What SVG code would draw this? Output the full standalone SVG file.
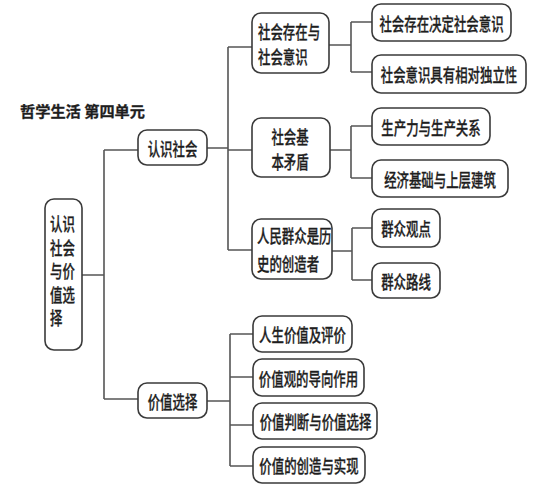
<svg xmlns="http://www.w3.org/2000/svg" width="536" height="487" viewBox="0 0 536 487">
<style>
.b{fill:#fff;stroke:#3a3a3a;stroke-width:1.6}
.t{font-family:"Noto Sans CJK SC","Noto Sans CJK TC",sans-serif;font-size:18px;font-weight:500;fill:#1e1e1e;stroke:#1e1e1e;stroke-width:0.3;dominant-baseline:central}
.c{text-anchor:middle}
.ln{fill:none;stroke:#555;stroke-width:1.6}
</style>
<rect width="536" height="487" fill="#fff"/>
<text id="title" x="20" y="110" class="t" style="font-size:14.5px;font-weight:bold" textLength="125" lengthAdjust="spacingAndGlyphs">哲学生活 第四单元</text>
<g id="connectors" class="ln">
<path d="M82 275H104M104 150V399M104 150H138M104 399H138"/>
<path d="M207 148H228M228 47V250M228 47H252M228 150H252M228 250H252"/>
<path d="M329 45H351M351 22V72M351 22H372M351 72H372"/>
<path d="M330 150H351M351 126V178M351 126H372M351 178H372"/>
<path d="M332 251H352M352 228V280M352 228H372M352 280H372"/>
<path d="M207 401H230M230 334V466M230 334H253M230 377H253M230 425H253M230 466H253"/>
</g>
<g id="root"><rect class="b" x="45" y="199" width="37" height="151" rx="9"/>
<g transform="scale(0.69,1)">
<text class="t" x="72.464" y="223">认识</text>
<text class="t" x="72.464" y="246.5">社会</text>
<text class="t" x="72.464" y="270">与价</text>
<text class="t" x="72.464" y="293.5">值选</text>
<text class="t" x="72.464" y="317">择</text></g></g>
<g id="n-rssh"><rect class="b" x="138" y="130" width="69" height="35" rx="9"/>
<text class="t c" transform="scale(0.69,1)" x="250" y="147.5">认识社会</text></g>
<g id="n-jzxz"><rect class="b" x="138" y="383" width="69" height="35" rx="9"/>
<text class="t c" transform="scale(0.69,1)" x="250" y="400.5">价值选择</text></g>
<g id="n-shcz"><rect class="b" x="252" y="13" width="77" height="60" rx="9"/>
<g transform="scale(0.69,1)">
<text class="t" x="373.913" y="31">社会存在与</text>
<text class="t" x="373.913" y="56">社会意识</text></g></g>
<g id="n-shjb"><rect class="b" x="252" y="118" width="78" height="59" rx="9"/>
<g transform="scale(0.69,1)">
<text class="t c" x="420.29" y="136">社会基</text>
<text class="t c" x="420.29" y="161">本矛盾</text></g></g>
<g id="n-rmqz"><rect class="b" x="252" y="219" width="80" height="60" rx="9"/>
<g transform="scale(0.69,1)">
<text class="t" x="372.464" y="235">人民群众是历</text>
<text class="t" x="372.464" y="263">史的创造者</text></g></g>
<g id="l1"><rect class="b" x="372" y="4" width="139" height="37" rx="9"/>
<text class="t c" transform="scale(0.69,1)" x="639.855" y="22.5">社会存在决定社会意识</text></g>
<g id="l2"><rect class="b" x="372" y="55" width="154" height="38" rx="9"/>
<text class="t c" transform="scale(0.69,1)" x="650.725" y="74">社会意识具有相对独立性</text></g>
<g id="l3"><rect class="b" x="372" y="108" width="118" height="37" rx="9"/>
<text class="t c" transform="scale(0.69,1)" x="624.638" y="126.5">生产力与生产关系</text></g>
<g id="l4"><rect class="b" x="372" y="160" width="136" height="37" rx="9"/>
<text class="t c" transform="scale(0.69,1)" x="637.681" y="178.5">经济基础与上层建筑</text></g>
<g id="l5"><rect class="b" x="372" y="209" width="68" height="38" rx="9"/>
<text class="t c" transform="scale(0.69,1)" x="588.406" y="228">群众观点</text></g>
<g id="l6"><rect class="b" x="372" y="263" width="68" height="35" rx="9"/>
<text class="t c" transform="scale(0.69,1)" x="588.406" y="280.5">群众路线</text></g>
<g id="v1"><rect class="b" x="253" y="316" width="99" height="36" rx="9"/>
<text class="t c" transform="scale(0.69,1)" x="438.406" y="334">人生价值及评价</text></g>
<g id="v2"><rect class="b" x="253" y="359" width="111" height="37" rx="9"/>
<text class="t c" transform="scale(0.69,1)" x="447.101" y="377.5">价值观的导向作用</text></g>
<g id="v3"><rect class="b" x="253" y="403" width="124" height="36" rx="9"/>
<text class="t c" transform="scale(0.69,1)" x="457.246" y="421">价值判断与价值选择</text></g>
<g id="v4"><rect class="b" x="253" y="447" width="112" height="36" rx="9"/>
<text class="t c" transform="scale(0.69,1)" x="447.826" y="465">价值的创造与实现</text></g>
</svg>
